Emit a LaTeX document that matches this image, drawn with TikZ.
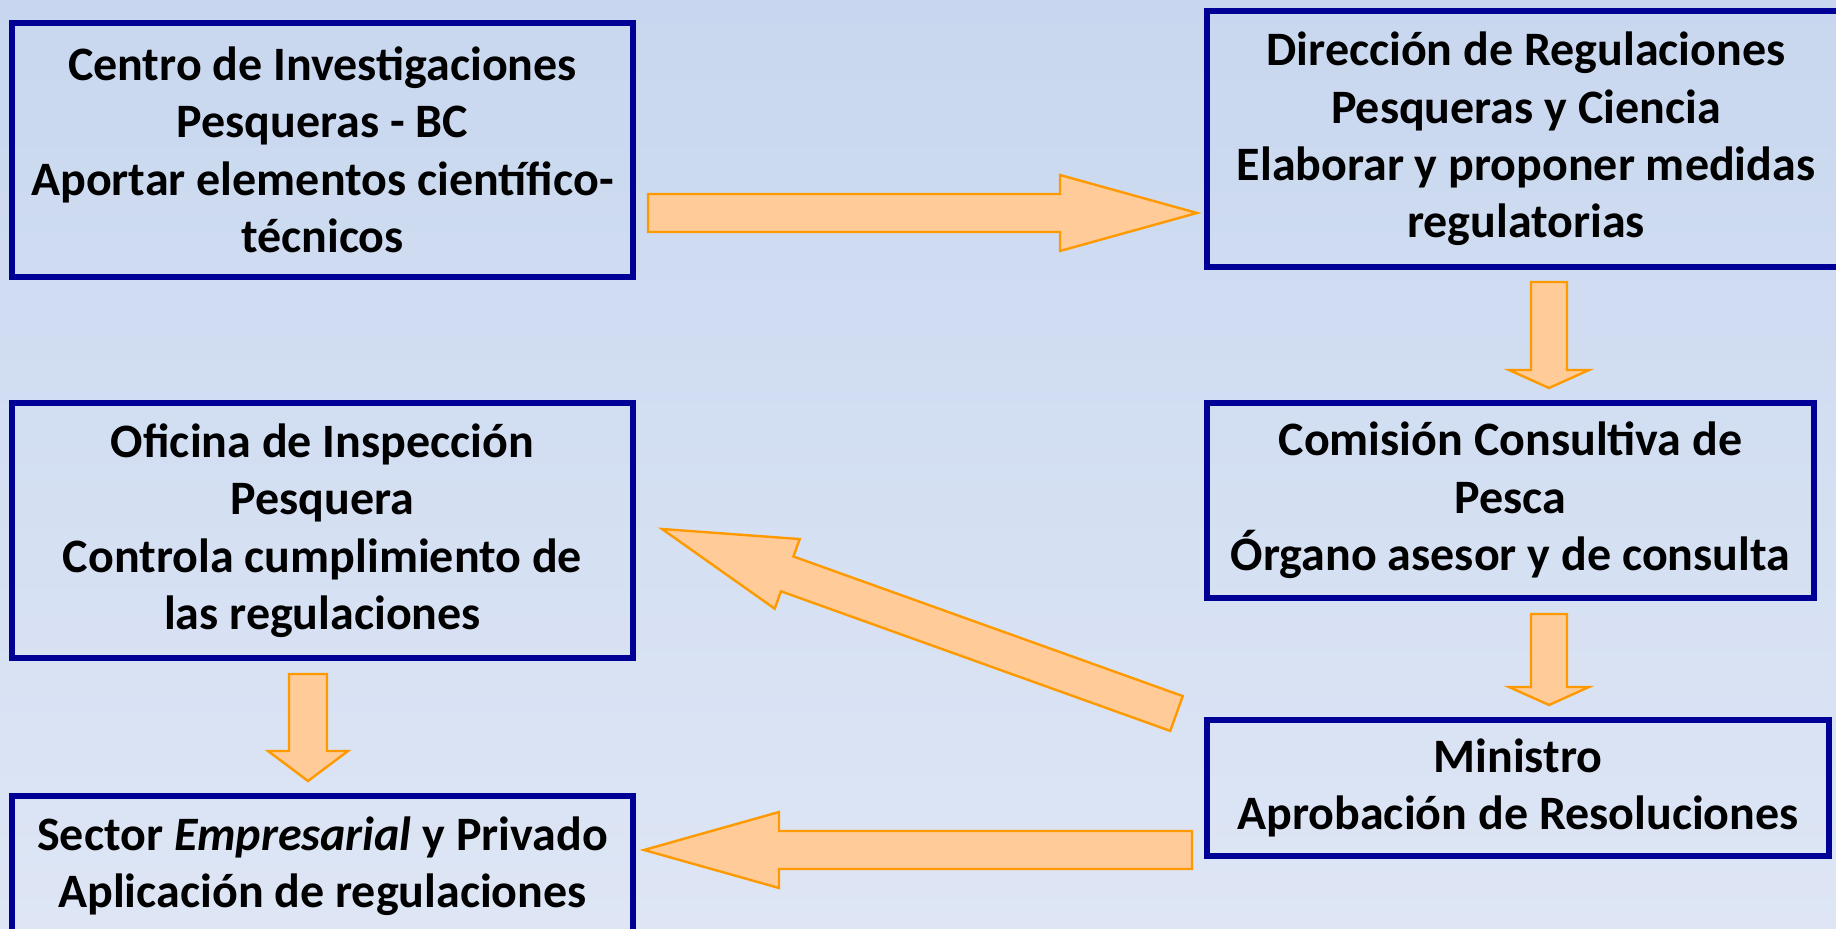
\documentclass[tikz,border=0pt]{standalone}
\usepackage{fontspec}
\setmainfont{Carlito}
\usetikzlibrary{positioning, calc}
\definecolor{boxline}{RGB}{0,0,150}
\definecolor{arrowfill}{RGB}{255,204,153}
\definecolor{arrowline}{RGB}{255,153,0}
\definecolor{bgtop}{RGB}{200,215,239}
\definecolor{bgbottom}{RGB}{222,230,245}
\tikzset{
	every box/.style={draw=boxline, line width=2.8pt, align=center, inner sep=0pt,
		font=\fontsize{24}{28.7}\selectfont\bfseries},
	flow arrow/.style={fill=arrowfill, draw=arrowline, line width=1.2pt, line join=miter},
}
% from, to, shaft half width, head half width, head length
\newcommand{\blockarrow}[5]{%
	\coordinate (h) at ($(#2)!#5!(#1)$);
	\draw [flow arrow] ($(#1)!#3!90:(#2)$) -- ($(h)!#3!90:(#2)$) -- ($(h)!#4!90:(#2)$) -- (#2)
		-- ($(h)!#4!-90:(#2)$) -- ($(h)!#3!-90:(#2)$) -- ($(#1)!#3!-90:(#2)$) -- cycle;
}

\begin{document}
\begin{tikzpicture}[x=0.5pt, y=-0.5pt]
		\useasboundingbox (0,0) rectangle (1836,929);
		\clip (0,0) rectangle (1836,929);
		\shade [top color=bgtop, bottom color=bgbottom] (0,0) rectangle (1836,929);

		\node [every box, minimum width=310.5pt, minimum height=127pt] (cip) at (322.5,150) {
			Centro de Investigaciones\\Pesqueras - BC\\Aportar elementos científico-\\técnicos
		};
		\node [every box, minimum width=319pt, minimum height=128pt] (drp) at (1526,139) {
			Dirección de Regulaciones\\Pesqueras y Ciencia\\Elaborar y proponer medidas\\regulatorias
		};
		\node [every box, minimum width=303.5pt, minimum height=97.5pt] (ccp) at (1510.5,500.5) {
			Comisión Consultiva de\\Pesca\\Órgano asesor y de consulta
		};
		\node [every box, minimum width=311pt, minimum height=68pt] (min) at (1518,788) {
			Ministro\\Aprobación de Resoluciones
		};
		\node [every box, minimum width=310.5pt, minimum height=127.5pt] (oip) at (322.5,530.5) {
			Oficina de Inspección\\Pesquera\\Controla cumplimiento de\\las regulaciones
		};
		\node [every box, minimum width=310.5pt, minimum height=70pt] (sec) at (322.5,866) {
			Sector \textit{Empresarial} y Privado\\Aplicación de regulaciones
		};

		\coordinate (cip-out) at (648,213);
		\coordinate (drp-in) at (1197,213);
		\coordinate (drp-out) at (1549,282);
		\coordinate (ccp-in) at (1549,388);
		\coordinate (ccp-out) at (1549,614);
		\coordinate (min-in) at (1549,705);
		\coordinate (oip-out) at (308,674);
		\coordinate (sec-in) at (308,781);
		\coordinate (min-out) at (1192,850);
		\coordinate (sec-right) at (644,850);
		\coordinate (min-tail) at (1176.5,713.5);
		\coordinate (oip-in) at (662,529);

		\blockarrow{cip-out}{drp-in}{9.5pt}{19pt}{68.5pt}
		\foreach \a/\b in {drp-out/ccp-in, ccp-out/min-in} {
			\blockarrow{\a}{\b}{9pt}{20pt}{9pt}
		}
		\blockarrow{oip-out}{sec-in}{9.5pt}{20pt}{15pt}
		\blockarrow{min-out}{sec-right}{9.5pt}{19pt}{67.5pt}
		\blockarrow{min-tail}{oip-in}{9.25pt}{18.5pt}{66.5pt}
	\end{tikzpicture}
\end{document}
